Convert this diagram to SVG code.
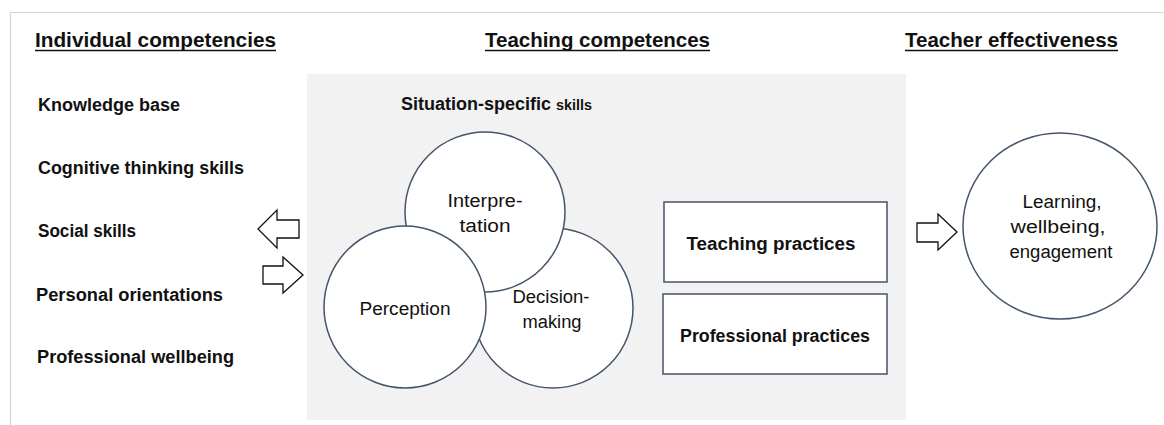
<svg xmlns="http://www.w3.org/2000/svg" width="1164" height="425" viewBox="0 0 1164 425">
  <style>
    .hdr { font-family: "Liberation Sans", Arial, sans-serif; font-size: 21px; font-weight: bold; fill: #111; }
    .item { font-family: "Liberation Sans", Arial, sans-serif; font-size: 18px; font-weight: bold; fill: #111; }
    .lbl { font-family: "Liberation Sans", Arial, sans-serif; font-size: 18px; fill: #111; }
    .ul { stroke: #111; stroke-width: 1.5; }
    .node { fill: #ffffff; stroke: #44546a; stroke-width: 1.5; }
    .arrow { fill: #ffffff; stroke: #111; stroke-width: 1.3; stroke-linejoin: miter; }
  </style>

  <!-- page background and outer frame -->
  <rect x="0" y="0" width="1164" height="425" fill="#ffffff"/>
  <path d="M10.5,425 V12.5 H1164" fill="none" stroke="#d4d4d4" stroke-width="1.2"/>

  <!-- column headings -->
  <g id="headings">
    <text class="hdr" x="35" y="47" textLength="241" lengthAdjust="spacingAndGlyphs">Individual competencies</text>
    <line class="ul" x1="35" y1="50.5" x2="276" y2="50.5"/>
    <text class="hdr" x="485" y="47" textLength="225" lengthAdjust="spacingAndGlyphs">Teaching competences</text>
    <line class="ul" x1="485" y1="50.5" x2="710" y2="50.5"/>
    <text class="hdr" x="905" y="47" textLength="213" lengthAdjust="spacingAndGlyphs">Teacher effectiveness</text>
    <line class="ul" x1="905" y1="50.5" x2="1118" y2="50.5"/>
  </g>

  <!-- individual competencies list -->
  <g id="individual-competencies">
    <text class="item" x="38" y="111" textLength="142" lengthAdjust="spacingAndGlyphs">Knowledge base</text>
    <text class="item" x="38" y="174" textLength="206" lengthAdjust="spacingAndGlyphs">Cognitive thinking skills</text>
    <text class="item" x="38" y="237" textLength="98" lengthAdjust="spacingAndGlyphs">Social skills</text>
    <text class="item" x="36" y="301" textLength="187" lengthAdjust="spacingAndGlyphs">Personal orientations</text>
    <text class="item" x="37" y="363" textLength="197" lengthAdjust="spacingAndGlyphs">Professional wellbeing</text>
  </g>

  <!-- teaching competences panel -->
  <g id="teaching-competences">
    <rect x="307" y="74" width="599" height="346" fill="#f2f2f2"/>
    <text class="item" x="401" y="110"><tspan textLength="150" lengthAdjust="spacingAndGlyphs">Situation-specific</tspan><tspan font-size="15" dx="5" textLength="36" lengthAdjust="spacingAndGlyphs">skills</tspan></text>
  </g>

  <!-- situation-specific skill circles -->
  <g id="decision-making">
    <circle class="node" cx="553" cy="308" r="80"/>
    <text class="lbl" x="551" y="303" text-anchor="middle" textLength="77" lengthAdjust="spacingAndGlyphs">Decision-</text>
    <text class="lbl" x="552" y="328" text-anchor="middle" textLength="59" lengthAdjust="spacingAndGlyphs">making</text>
  </g>
  <g id="interpretation">
    <circle class="node" cx="485" cy="212" r="80"/>
    <text class="lbl" x="485" y="207" text-anchor="middle" textLength="75" lengthAdjust="spacingAndGlyphs">Interpre-</text>
    <text class="lbl" x="485" y="232" text-anchor="middle" textLength="51" lengthAdjust="spacingAndGlyphs">tation</text>
  </g>
  <g id="perception">
    <circle class="node" cx="405" cy="307" r="81"/>
    <text class="lbl" x="405" y="315" text-anchor="middle" textLength="91" lengthAdjust="spacingAndGlyphs">Perception</text>
  </g>

  <!-- practices -->
  <g id="teaching-practices">
    <rect class="node" x="664" y="202" width="223" height="80"/>
    <text class="item" x="771" y="250" text-anchor="middle" textLength="169" lengthAdjust="spacingAndGlyphs">Teaching practices</text>
  </g>
  <g id="professional-practices">
    <rect class="node" x="663" y="294" width="224" height="80"/>
    <text class="item" x="775" y="342" text-anchor="middle" textLength="190" lengthAdjust="spacingAndGlyphs">Professional practices</text>
  </g>

  <!-- outcomes -->
  <g id="teacher-effectiveness">
    <ellipse class="node" cx="1060" cy="226" rx="97" ry="93"/>
    <text class="lbl" x="1062" y="208" text-anchor="middle" textLength="79" lengthAdjust="spacingAndGlyphs">Learning,</text>
    <text class="lbl" x="1058" y="233" text-anchor="middle" textLength="95" lengthAdjust="spacingAndGlyphs">wellbeing,</text>
    <text class="lbl" x="1061" y="258" text-anchor="middle" textLength="103" lengthAdjust="spacingAndGlyphs">engagement</text>
  </g>

  <!-- block arrows between columns -->
  <g id="connectors">
    <path class="arrow" d="M258,229 L277,210 L277,220 L299,220 L299,238 L277,238 L277,248 Z"/>
    <path class="arrow" d="M303,275 L283,257 L283,266 L263,266 L263,284 L283,284 L283,293 Z"/>
    <path class="arrow" d="M957,232 L938,214 L938,223 L917,223 L917,242 L938,242 L938,250 Z"/>
  </g>
</svg>
